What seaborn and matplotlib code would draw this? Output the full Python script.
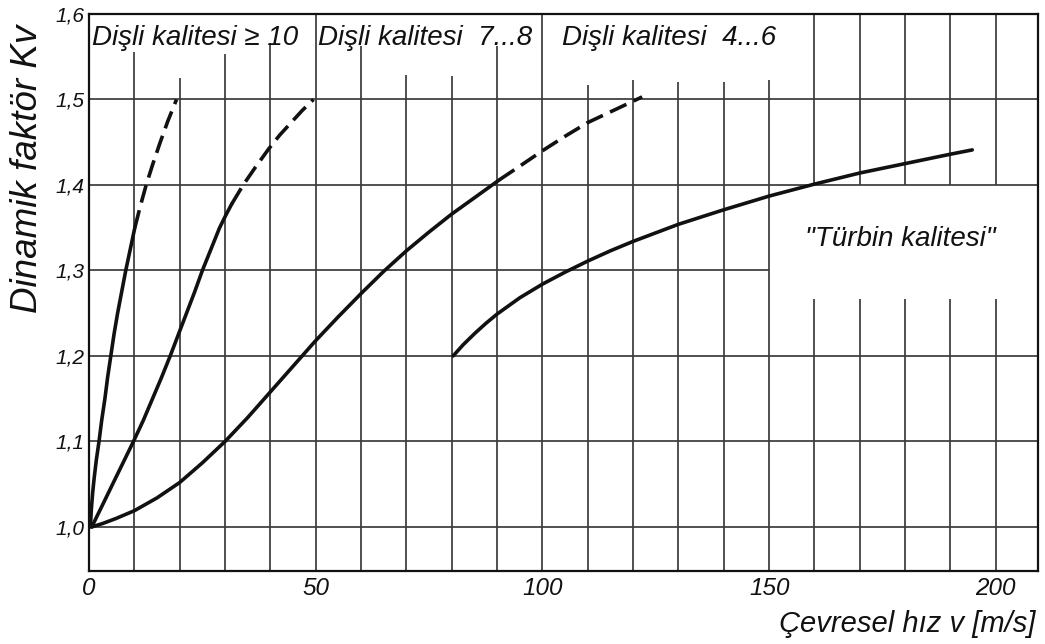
import matplotlib
matplotlib.use("Agg")
import matplotlib.pyplot as plt
import numpy as np
import pandas as pd
import seaborn as sns

# ---------------- data ----------------
# Dişli kalitesi >= 10
Q10_SOLID_V = [0.3, 0.5, 0.8, 1.15, 1.6, 2.2, 2.8, 3.5, 4.1, 4.8, 5.5, 6.3, 7.2, 8.1, 9.1, 10.1]
Q10_SOLID_KV = [1.0, 1.02, 1.04, 1.058, 1.078, 1.10, 1.125, 1.15, 1.175, 1.20, 1.225, 1.25,
                1.275, 1.30, 1.325, 1.35]
Q10_DASH_V = [10.1, 11.3, 12.6, 14.1, 15.7, 17.4, 19.3]
Q10_DASH_KV = [1.35, 1.375, 1.40, 1.425, 1.45, 1.475, 1.50]

# Dişli kalitesi 7...8
Q78_SOLID_V = [0.6, 3.0, 5.2, 7.5, 9.8, 12.0, 14.0, 16.0, 17.9, 19.7, 21.5, 23.3,
               25.0, 26.9, 28.8, 30.2, 31.5]
Q78_SOLID_KV = [1.0, 1.026, 1.05, 1.075, 1.10, 1.125, 1.15, 1.175, 1.20, 1.225, 1.25,
                1.275, 1.30, 1.325, 1.35, 1.365, 1.378]
Q78_DASH_V = [31.5, 34.0, 36.6, 39.6, 42.0, 44.4, 47.0, 49.5]
Q78_DASH_KV = [1.378, 1.40, 1.42, 1.442, 1.458, 1.472, 1.487, 1.50]

# Dişli kalitesi 4...6
Q46_SOLID_V = [0.6, 3, 6, 10, 15, 20, 25, 30, 35, 40, 45, 50, 55, 60, 65, 70, 75, 80, 85, 90.5]
Q46_SOLID_KV = [1.0, 1.004, 1.010, 1.019, 1.034, 1.052, 1.075, 1.10, 1.128, 1.158, 1.188,
                1.218, 1.246, 1.273, 1.299, 1.323, 1.345, 1.366, 1.385, 1.406]
Q46_DASH_V = [90.5, 95, 100, 105, 110, 116, 122]
Q46_DASH_KV = [1.406, 1.422, 1.44, 1.457, 1.473, 1.488, 1.503]

# "Türbin kalitesi"
TURB_V = [80.3, 82.5, 85, 87.5, 90, 95, 100, 105, 110, 115, 120, 130, 140, 150, 160, 170,
          180, 190, 194.8]
TURB_KV = [1.20, 1.213, 1.226, 1.238, 1.249, 1.268, 1.284, 1.298, 1.311, 1.323, 1.334,
           1.354, 1.371, 1.387, 1.401, 1.414, 1.425, 1.436, 1.441]

X_TICKS = [0, 50, 100, 150, 200]
X_TICK_LABELS = ["0", "50", "100", "150", "200"]
Y_TICKS = [1.0, 1.1, 1.2, 1.3, 1.4, 1.5, 1.6]
Y_TICK_LABELS = ["1,0", "1,1", "1,2", "1,3", "1,4", "1,5", "1,6"]

GRID_X = [10, 20, 30, 40, 50, 60, 70, 80, 90, 100, 110, 120, 130, 140, 150,
          160, 170, 180, 190, 200]
GRID_Y = [1.0, 1.1, 1.2, 1.3, 1.4, 1.5]

LABEL_Q10 = "Dişli kalitesi ≥ 10"
LABEL_Q78 = "Dişli kalitesi  7...8"
LABEL_Q46 = "Dişli kalitesi  4...6"
LABEL_TURB = "\"Türbin kalitesi\""
Y_LABEL = "Dinamik faktör Kv"
X_LABEL = "Çevresel hız v [m/s]"

# ---------------- layout / style ----------------
XLIM = (0, 209.3)
YLIM = (0.9485, 1.6)
# upper end of each vertical grid line (label strip at the top)
GRID_X_TOP = [1.556, 1.525, 1.553, 1.566, 1.6, 1.562, 1.529, 1.527, 1.562, 1.6,
              1.517, 1.523, 1.521, 1.521, 1.523, 1.6, 1.6, 1.6, 1.6, 1.6]
BOX_X0 = 150          # white box for "Türbin kalitesi"
BOX_Y0, BOX_Y1 = 1.267, 1.4

sns.set_theme(style="white")
plt.rcParams["font.family"] = ["Liberation Sans", "DejaVu Sans"]
plt.rcParams["font.style"] = "italic"

fig = plt.figure(figsize=(10.45, 6.44), dpi=100)
ax = fig.add_axes([0.0852, 0.1134, 0.9081, 0.8649])
ax.set_facecolor("white")

grid_kw = dict(color="#3a3a3a", linewidth=1.25, linestyles="solid", zorder=1)

# vertical grid lines
for gx, top in zip(GRID_X, GRID_X_TOP):
    if gx > BOX_X0:
        ax.vlines(gx, YLIM[0], BOX_Y0, **grid_kw)
        ax.vlines(gx, BOX_Y1, top, **grid_kw)
    else:
        ax.vlines(gx, YLIM[0], top, **grid_kw)

# horizontal grid lines
for gy in GRID_Y:
    if BOX_Y0 < gy < BOX_Y1:
        ax.hlines(gy, XLIM[0], BOX_X0, **grid_kw)
    else:
        ax.hlines(gy, XLIM[0], XLIM[1], **grid_kw)

# curves
DASH = (0, (5, 2.2))
segments = [
    (Q10_SOLID_V, Q10_SOLID_KV, "-"),
    (Q10_DASH_V, Q10_DASH_KV, DASH),
    (Q78_SOLID_V, Q78_SOLID_KV, "-"),
    (Q78_DASH_V, Q78_DASH_KV, DASH),
    (Q46_SOLID_V, Q46_SOLID_KV, "-"),
    (Q46_DASH_V, Q46_DASH_KV, DASH),
    (TURB_V, TURB_KV, "-"),
]
for vx, ky, ls in segments:
    df = pd.DataFrame({"v": vx, "kv": ky})
    sns.lineplot(data=df, x="v", y="kv", ax=ax, color="#111111", linewidth=2.6,
                 linestyle=ls, sort=False, estimator=None, zorder=3,
                 solid_joinstyle="round", solid_capstyle="round")

ax.set_xlim(*XLIM)
ax.set_ylim(*YLIM)
ax.set_xticks(X_TICKS)
ax.set_xticklabels(X_TICK_LABELS, fontsize=17.5, style="italic")
ax.set_yticks(Y_TICKS)
ax.set_yticklabels(Y_TICK_LABELS, fontsize=15, style="italic")
ax.tick_params(axis="x", length=0, pad=4.5, colors="#111111")
ax.tick_params(axis="y", length=0, pad=3.5, colors="#111111")
for s in ax.spines.values():
    s.set_visible(True)
    s.set_color("#111111")
    s.set_linewidth(1.6)

ax.set_ylabel(Y_LABEL, fontsize=26.5, style="italic", color="#111111")
ax.yaxis.label.set_va("baseline")
ax.yaxis.set_label_coords(-0.0548, 0.7226)

ax.set_xlabel(X_LABEL, fontsize=21, style="italic", color="#111111", loc="right")
ax.xaxis.label.set_va("baseline")
ax.xaxis.set_label_coords(0.997, -0.109)

txt_kw = dict(fontsize=20, style="italic", color="#111111", va="baseline", ha="left", zorder=4)
ax.text(0.66, 1.5637, LABEL_Q10, **txt_kw)
ax.text(50.5, 1.5637, LABEL_Q78, **txt_kw)
ax.text(104.4, 1.5637, LABEL_Q46, **txt_kw)
ax.text(157.9, 1.329, LABEL_TURB, **txt_kw)

fig.savefig("out.png", dpi=100, facecolor="white")
